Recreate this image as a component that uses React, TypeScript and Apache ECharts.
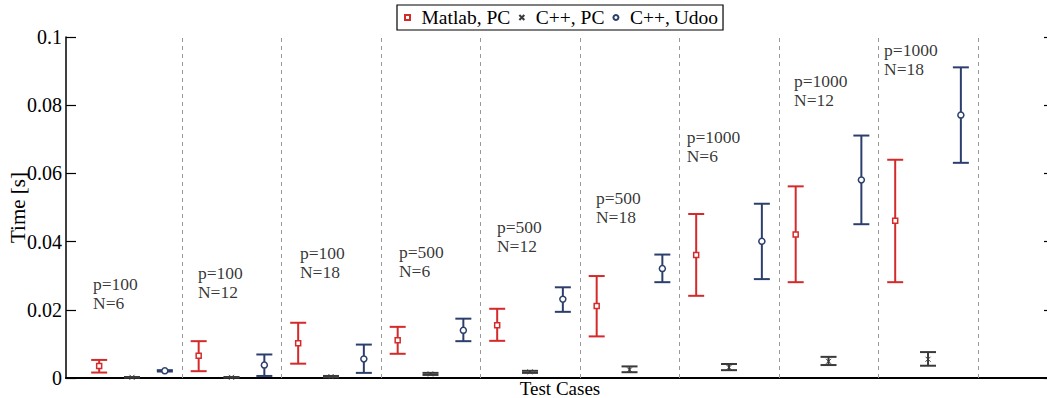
import React, { useEffect, useRef } from 'react';
import * as echarts from 'echarts';

// ---- data ----
const groupLabels = [
  'p=100\nN=6', 'p=100\nN=12', 'p=100\nN=18',
  'p=500\nN=6', 'p=500\nN=12', 'p=500\nN=18',
  'p=1000\nN=6', 'p=1000\nN=12', 'p=1000\nN=18',
];
const groupPos = [1, 2, 3, 4, 5, 6, 7, 8, 9];
const separators = [1.5, 2.5, 3.5, 4.5, 5.5, 6.5, 7.5, 8.5, 9.5];

const seriesNames = ['Matlab, PC', 'C++, PC', 'C++, Udoo'];
const seriesOffset = [-0.33, 0, 0.33];

const matlabMean = [0.0035, 0.0065, 0.0102, 0.0111, 0.0155, 0.0211, 0.0361, 0.0421, 0.0461];
const matlabLow = [0.0016, 0.0020, 0.0042, 0.0071, 0.0109, 0.0122, 0.0241, 0.0281, 0.0281];
const matlabHigh = [0.0053, 0.0108, 0.0162, 0.0150, 0.0203, 0.0299, 0.0481, 0.0562, 0.0640];

const cppPcMean = [0.0002, 0.0002, 0.0004, 0.0012, 0.0018, 0.0024, 0.0031, 0.0049, 0.0055];
const cppPcLow = [0.0001, 0.0001, 0.0002, 0.0009, 0.0015, 0.0017, 0.0023, 0.0038, 0.0036];
const cppPcHigh = [0.0003, 0.0003, 0.0006, 0.0015, 0.0021, 0.0034, 0.0041, 0.0062, 0.0076];

const udooMean = [0.0021, 0.0038, 0.0056, 0.0140, 0.0231, 0.0321, 0.0401, 0.0581, 0.0771];
const udooLow = [0.0019, 0.0006, 0.0015, 0.0108, 0.0194, 0.0281, 0.0290, 0.0451, 0.0631];
const udooHigh = [0.0023, 0.0069, 0.0098, 0.0174, 0.0266, 0.0362, 0.0511, 0.0711, 0.0911];

// annotation anchor points (data coords)
const annX = [0.608, 1.663, 2.688, 3.683, 4.668, 5.663, 6.575, 7.653, 8.558];
const annY = [0.0248, 0.0279, 0.0340, 0.0343, 0.0414, 0.0501, 0.0678, 0.0842, 0.0934];

const yTicks = [0, 0.02, 0.04, 0.06, 0.08, 0.1];

const colors = ['#d42a2a', '#3a3a3a', '#2c3f6c'];
const FONT = '"Liberation Serif", "Times New Roman", serif';

const SQUARE = 'path://M0,0H10V10H0Z';
const CROSS = 'path://M0,0L10,10M0,10L10,0';
const CIRCLE = 'path://M5,0A5,5,0,1,1,4.99,0Z';
const symbols = [SQUARE, CROSS, CIRCLE];

export default function App() {
  const ref = useRef<HTMLDivElement>(null);
  useEffect(() => {
    if (!ref.current) return;
    const chart = echarts.init(ref.current, null, { renderer: 'svg' });
    const means = [matlabMean, cppPcMean, udooMean];
    const lows = [matlabLow, cppPcLow, udooLow];
    const highs = [matlabHigh, cppPcHigh, udooHigh];

    const errSeries = seriesNames.map((name, si) => ({
      type: 'custom',
      name: name + ' err',
      silent: true,
      z: 2,
      data: groupPos.map((g, i) => [g + seriesOffset[si], lows[si][i], highs[si][i]]),
      encode: { x: 0, y: [1, 2] },
      renderItem: (params: any, api: any) => {
        const x = api.value(0);
        const pLo = api.coord([x, api.value(1)]);
        const pHi = api.coord([x, api.value(2)]);
        const hw = 8;
        const style = { stroke: colors[si], lineWidth: 2, fill: 'none' };
        return {
          type: 'group',
          children: [
            { type: 'line', shape: { x1: pLo[0], y1: pLo[1], x2: pHi[0], y2: pHi[1] }, style },
            { type: 'line', shape: { x1: pLo[0] - hw, y1: pLo[1], x2: pLo[0] + hw, y2: pLo[1] }, style },
            { type: 'line', shape: { x1: pHi[0] - hw, y1: pHi[1], x2: pHi[0] + hw, y2: pHi[1] }, style },
          ],
        };
      },
    }));

    const markerSeries = seriesNames.map((name, si) => ({
      type: 'scatter',
      name,
      z: 3,
      symbol: symbols[si],
      symbolSize: si === 2 ? 6 : 5,
      itemStyle: {
        color: si === 1 ? 'rgba(0,0,0,0)' : '#ffffff',
        borderColor: colors[si],
        borderWidth: si === 1 ? 1 : 1.5,
        opacity: 1,
      },
      data: groupPos.map((g, i) => [g + seriesOffset[si], means[si][i]]),
      ...(si === 0
        ? {
            markLine: {
              silent: true,
              symbol: ['none', 'none'],
              label: { show: false },
              lineStyle: { type: [4, 4], color: '#999999', width: 1 },
              data: separators.map((s) => ({ xAxis: s })),
            },
          }
        : {}),
    }));

    const annSeries = {
      type: 'scatter',
      name: 'annotations',
      silent: true,
      symbolSize: 0,
      z: 4,
      data: annX.map((x, i) => [x, annY[i]]),
      label: {
        show: true,
        position: 'right',
        distance: 0,
        formatter: (p: any) => groupLabels[p.dataIndex],
        fontFamily: FONT,
        fontSize: 17.5,
        lineHeight: 19,
        color: '#000',
        align: 'left',
      },
    };

    chart.setOption({
      animation: false,
      backgroundColor: '#ffffff',
      grid: { left: 66, right: -7, top: 37, bottom: 20, containLabel: false, outerBoundsMode: 'none' },
      legend: {
        data: seriesNames.map((n, i) => ({ name: n, icon: symbols[i] })),
        left: 397,
        top: 5,
        orient: 'horizontal',
        itemWidth: 18,
        itemHeight: 5,
        itemGap: 8,
        padding: [2, 5, 2, 7],
        borderColor: '#000',
        borderWidth: 1.2,
        backgroundColor: '#fff',
        selectedMode: false,
        textStyle: { fontFamily: FONT, fontSize: 19.5, color: '#000', lineHeight: 21 },
      },
      xAxis: [
        {
          type: 'value',
          min: 0.3367,
          max: 10.266,
          axisLine: { show: true, lineStyle: { color: '#000', width: 2 } },
          axisTick: { show: false },
          axisLabel: { show: false },
          splitLine: { show: false },
          name: 'Test Cases',
          nameLocation: 'middle',
          nameGap: 1,
          nameMoveOverlap: false,
          nameTextStyle: { fontFamily: FONT, fontSize: 19, color: '#000', verticalAlign: 'top' },
        },
        {
          type: 'value',
          position: 'top',
          min: 0.3367,
          max: 10.266,
          axisLine: { show: true, lineStyle: { color: '#000', width: 1.5 } },
          axisTick: { show: false },
          axisLabel: { show: false },
          splitLine: { show: false },
        },
      ],
      yAxis: [
        {
          type: 'value',
          min: yTicks[0],
          max: yTicks[yTicks.length - 1],
          interval: 0.02,
          axisLine: { show: true, lineStyle: { color: '#000', width: 1.5 } },
          axisTick: { show: true, inside: true, length: 10, lineStyle: { color: '#000', width: 1.2 } },
          axisLabel: {
            show: true,
            margin: 4,
            fontFamily: FONT,
            fontSize: 20,
            color: '#000',
            formatter: (v: number) => (v === 0 ? '0' : String(+v.toFixed(2))),
          },
          splitLine: { show: false },
          name: 'Time [s]',
          nameLocation: 'middle',
          nameGap: 38,
          nameMoveOverlap: false,
          nameTextStyle: { fontFamily: FONT, fontSize: 21, color: '#000' },
        },
        {
          type: 'value',
          position: 'right',
          min: yTicks[0],
          max: yTicks[yTicks.length - 1],
          interval: 0.02,
          axisLine: { show: true, lineStyle: { color: '#000', width: 1.5 } },
          axisTick: { show: true, inside: true, length: 10, lineStyle: { color: '#000', width: 1.2 } },
          axisLabel: { show: false },
          splitLine: { show: false },
        },
      ],
      series: [...errSeries, ...markerSeries, annSeries],
    } as any);
    return () => chart.dispose();
  }, []);
  return (
    <div
      ref={ref}
      style={{ position: 'absolute', left: 0, top: 0, width: 1047, height: 398, overflow: 'hidden' }}
    />
  );
}
